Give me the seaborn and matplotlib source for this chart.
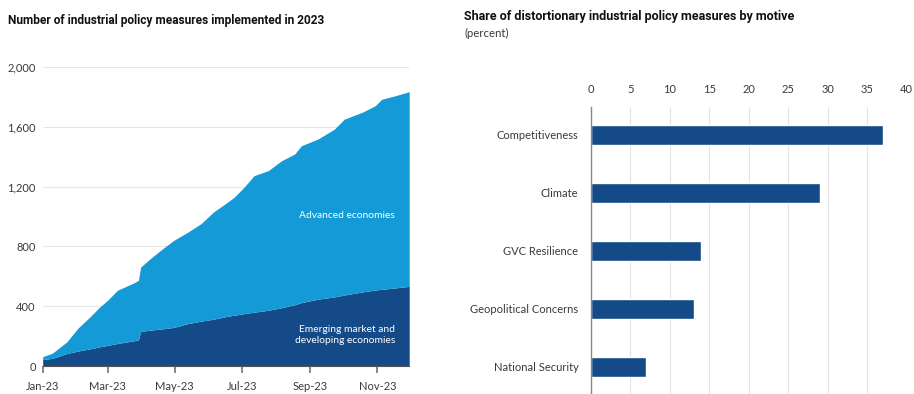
import seaborn as sns
import matplotlib.pyplot as plt
import matplotlib.dates as mdates
import matplotlib.ticker as mticker
import pandas as pd

# cumulative number of measures
dates = ["2023-01-01", "2023-01-10", "2023-01-23", "2023-02-02", "2023-02-13",
         "2023-02-22", "2023-03-01", "2023-03-10", "2023-03-24", "2023-03-29",
         "2023-03-31", "2023-04-09", "2023-04-18", "2023-04-30", "2023-05-13",
         "2023-05-25", "2023-06-05", "2023-06-18", "2023-06-24", "2023-07-03",
         "2023-07-12", "2023-07-25", "2023-08-06", "2023-08-18", "2023-08-24",
         "2023-09-08", "2023-09-23", "2023-10-02", "2023-10-18", "2023-10-30",
         "2023-11-05", "2023-11-17", "2023-11-30"]
total = [62, 87, 162, 253, 329, 396, 440, 507, 553, 573,
         662, 720, 773, 840, 896, 953, 1029, 1096, 1129, 1196,
         1273, 1307, 1373, 1418, 1473, 1518, 1584, 1651, 1696, 1740,
         1784, 1807, 1835]
emerging = [44, 51, 84, 100, 115, 129, 138, 151, 168, 174,
            232, 240, 247, 258, 284, 300, 313, 333, 340, 350,
            360, 373, 390, 410, 424, 447, 462, 475, 495, 508,
            513, 522, 533]

motives = ["Competitiveness", "Climate", "GVC Resilience",
           "Geopolitical Concerns", "National Security"]
shares = [37, 29, 14, 13, 7]

light_blue = "#149AD6"
dark_blue = "#154A88"
txt = "#3a3a3a"

sns.set_theme(style="white")
plt.rcParams["font.family"] = ["Lato", "DejaVu Sans"]

df = pd.DataFrame({"Date": pd.to_datetime(dates), "Total": total, "Emerging": emerging})

fig = plt.figure(figsize=(9.14, 3.94), dpi=100)

# left chart
ax1 = fig.add_axes([0.0467, 0.071, 0.401, 0.759])
ax1.fill_between(df["Date"], 0, df["Emerging"], color=dark_blue, lw=0, zorder=3)
ax1.fill_between(df["Date"], df["Emerging"], df["Total"], color=light_blue, lw=0, zorder=3)
ax1.set_ylim(0, 2000)
ax1.set_xlim(df["Date"].iloc[0], df["Date"].iloc[-1])
ax1.set_yticks([0, 400, 800, 1200, 1600, 2000])
ax1.yaxis.set_major_formatter(mticker.FuncFormatter(lambda v, p: f"{int(v):,}"))
ax1.xaxis.set_major_locator(mdates.MonthLocator(bymonth=[1, 3, 5, 7, 9, 11]))
ax1.xaxis.set_major_formatter(mdates.DateFormatter("%b-%y"))
ax1.grid(axis="y", color="#e6e6e6", lw=0.8)
for s in ["top", "right", "left"]:
    ax1.spines[s].set_visible(False)
ax1.spines["bottom"].set_color("#555555")
ax1.spines["bottom"].set_linewidth(0.8)
ax1.spines["bottom"].set_zorder(4)
ax1.tick_params(axis="x", bottom=True, length=5, color="#777777", labelsize=8, labelcolor=txt, pad=6)
ax1.tick_params(axis="y", left=False, length=0, labelsize=8, labelcolor=txt, pad=5)
ax1.text(0.962, 0.502, "Advanced economies", transform=ax1.transAxes, ha="right",
         va="center", color="white", fontsize=7.4, zorder=5)
ax1.text(0.962, 0.104, "Emerging market and\ndeveloping economies", transform=ax1.transAxes,
         ha="right", va="center", color="white", fontsize=7.4, linespacing=1.35, zorder=5)
fig.text(0.009, 0.949, "Number of industrial policy measures implemented in 2023",
         fontsize=8.6, fontweight="bold", color="#111111", va="center",
         family=["Liberation Sans Narrow", "Roboto", "DejaVu Sans"])

# right chart
ax2 = fig.add_axes([0.6466, 0.0, 0.3454, 0.7284])
sns.barplot(x=shares, y=motives, orient="h", color=dark_blue, saturation=1,
            width=0.35, ax=ax2, zorder=3)
ax2.set_xlim(0, 40)
ax2.set_ylim(4.47, -0.48)
ax2.set_xticks(range(0, 41, 5))
ax2.xaxis.tick_top()
ax2.grid(axis="x", color="#e3e3e3", lw=0.8)
for s in ["top", "right", "bottom"]:
    ax2.spines[s].set_visible(False)
ax2.spines["left"].set_color("#888888")
ax2.spines["left"].set_linewidth(1)
ax2.spines["left"].set_zorder(4)
ax2.tick_params(axis="x", top=False, length=0, labelsize=8, labelcolor=txt, pad=9)
ax2.tick_params(axis="y", left=False, length=0, labelsize=8, labelcolor=txt, pad=9)
ax2.set_xlabel("")
ax2.set_ylabel("")
fig.text(0.5077, 0.959, "Share of distortionary industrial policy measures by motive",
         fontsize=9.0, fontweight="bold", color="#111111", va="center",
         family=["Liberation Sans Narrow", "Roboto", "DejaVu Sans"])
fig.text(0.5077, 0.914, "(percent)", fontsize=8.2, color=txt, va="center")

fig.savefig("out.png", dpi=100)
